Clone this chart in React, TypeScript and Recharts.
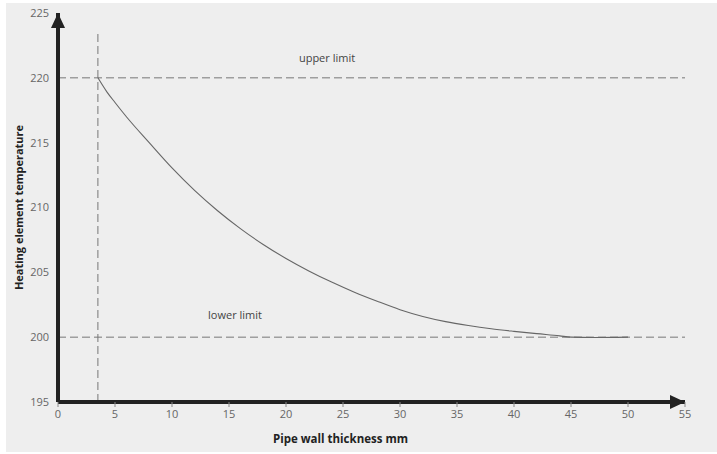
import { LineChart, Line, XAxis, YAxis, ReferenceLine } from 'recharts'

// pipe wall thickness (mm) vs heating element temperature
const thickness = [3.5, 4.3, 5, 6, 8, 10, 12, 14, 16, 18, 20, 22, 24, 26, 28, 30, 32, 34, 36, 38, 40, 42, 44, 45, 47, 50]
const temperature = [220, 218.9, 218.1, 217.0, 215.0, 213.05, 211.3, 209.75, 208.37, 207.15, 206.07, 205.11, 204.25, 203.47, 202.77, 202.12, 201.6, 201.2, 200.9, 200.65, 200.45, 200.27, 200.1, 200.0, 199.97, 200]

const xTicks = [0, 5, 10, 15, 20, 25, 30, 35, 40, 45, 50, 55]
const yTicks = [195, 200, 205, 210, 215, 220, 225]

const upperLimit = 220
const lowerLimit = 200
const minThickness = 3.5

const data = thickness.map((t, i) => ({ t, temp: temperature[i] }))

const FONT = '"Open Sans", "DejaVu Sans", sans-serif'

export default function App() {
  return (
    <div style={{ position: 'fixed', top: 0, left: 0, width: 717, height: 454, background: '#fff' }}>
      <div style={{ position: 'absolute', left: 6, top: 3, right: 0, bottom: 2, background: '#eeeeee' }} />
      <div style={{ position: 'absolute', left: 0, top: 0 }}>
        <LineChart width={717} height={454} data={data} margin={{ top: 13, right: 32, left: -22, bottom: 22 }}>
          <defs>
            <marker id="arrowHead" markerUnits="userSpaceOnUse" markerWidth={16} markerHeight={14} refX={15} refY={7} orient="auto-start-reverse">
              <path d="M0,0 L15,7 L0,14 z" fill="#222" />
            </marker>
          </defs>
          <XAxis
            type="number"
            dataKey="t"
            domain={[0, 55]}
            ticks={xTicks}
            interval={0}
            height={30}
            axisLine={{ stroke: '#222', strokeWidth: 4, markerEnd: 'url(#arrowHead)' }}
            tickLine={{ stroke: '#888' }}
            tickSize={5}
            tickMargin={3}
            tick={{ fill: '#666', fontSize: 11, fontFamily: FONT }}
            label={{
              content: ({ viewBox }: any) => (
                <text x={viewBox.x + viewBox.width / 2 - 31} y={viewBox.y + 41} textAnchor="middle" fill="#222" fontSize={11.5} fontWeight="bold" fontFamily={FONT}>
                  Pipe wall thickness mm
                </text>
              ),
            }}
          />
          <YAxis
            type="number"
            domain={[195, 225]}
            ticks={yTicks}
            interval={0}
            width={80}
            axisLine={{ stroke: '#222', strokeWidth: 4, markerStart: 'url(#arrowHead)' }}
            tickLine={false}
            tickSize={6}
            tickMargin={3}
            tick={{ fill: '#666', fontSize: 11, fontFamily: FONT }}
            label={{
              content: ({ viewBox }: any) => {
                const cx = viewBox.x + viewBox.width / 2
                const cy = viewBox.y + viewBox.height / 2
                return (
                  <text x={cx} y={cy} transform={`rotate(-90 ${cx} ${cy})`} textAnchor="middle" dominantBaseline="central" fill="#222" fontSize={11} fontWeight="bold" fontFamily={FONT}>
                    Heating element temperature
                  </text>
                )
              },
            }}
          />
          <ReferenceLine
            y={upperLimit}
            stroke="#777"
            strokeDasharray="8 4"
            label={{
              content: ({ viewBox }: any) => (
                <text x={viewBox.x + 269} y={viewBox.y - 16} textAnchor="middle" fill="#444" fontSize={11} fontFamily={FONT}>upper limit</text>
              ),
            }}
          />
          <ReferenceLine
            y={lowerLimit}
            stroke="#777"
            strokeDasharray="8 4"
            label={{
              content: ({ viewBox }: any) => (
                <text x={viewBox.x + 177} y={viewBox.y - 18} textAnchor="middle" fill="#444" fontSize={11} fontFamily={FONT}>lower limit</text>
              ),
            }}
          />
          <ReferenceLine
            segment={[{ x: minThickness, y: 195 }, { x: minThickness, y: 223.5 }]}
            stroke="#777"
            strokeDasharray="8 4"
          />
          <Line type="monotone" dataKey="temp" stroke="#666" strokeWidth={1.1} dot={false} isAnimationActive={false} />
        </LineChart>
      </div>
    </div>
  )
}
